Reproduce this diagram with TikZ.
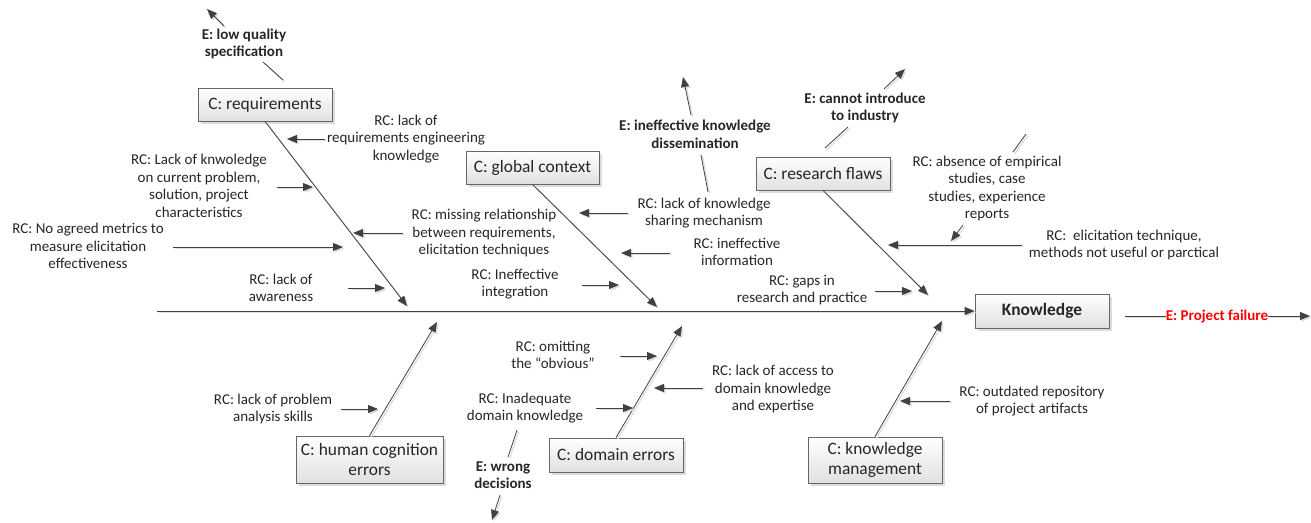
\documentclass[tikz,border=0pt]{standalone}
\usepackage{fontspec}
\setmainfont{Carlito}
\usetikzlibrary{arrows.meta,shadows}
\newcommand\rcfont{\fontsize{15}{17.6}\selectfont}
\newcommand\boxfont{\fontsize{17.4}{20}\selectfont}
\tikzset{
  txt/.style={align=center, inner sep=1pt, font=\rcfont, text=black!85},
  etxt/.style={align=center, inner sep=1pt, font=\rcfont\bfseries, text=black!85},
  cbox/.style={draw=black!60, line width=0.8pt, top color=white, bottom color=black!12,
    inner sep=2pt, align=center, font=\boxfont, text=black!85,
    drop shadow={shadow xshift=2.5pt, shadow yshift=-2.5pt, fill=black!25, opacity=0.55}},
  ln/.style={draw=black!75, line width=0.8pt,
    preaction={draw=black!13, line width=1.3pt, transform canvas={shift={(1.6pt,-1.6pt)}}}},
  arr/.style={ln, -{Triangle[length=10pt,width=8pt]}},
}
\begin{document}
\begin{tikzpicture}[x=1pt,y=-1pt]
\useasboundingbox (0,0) rectangle (1311,522);

% ---------- category boxes ----------
\node[cbox, minimum width=134pt, minimum height=33pt] (req)  at (265,104.5) {C: requirements};
\node[cbox, minimum width=133pt, minimum height=33pt] (glob) at (532.5,167.5) {C: global context};
\node[cbox, minimum width=134pt, minimum height=33pt] (res)  at (823,173.5) {C: research flaws};
\node[cbox, minimum width=134pt, minimum height=34pt, font=\boxfont\bfseries] (know) at (1042,311) {Knowledge};
\node[cbox, minimum width=147pt, minimum height=47pt] (hum)  at (369.5,459.5) {C: human cognition\\errors};
\node[cbox, minimum width=134pt, minimum height=34pt] (dom)  at (616,455) {C: domain errors};
\node[cbox, minimum width=134pt, minimum height=46pt] (km)   at (875,460) {C: knowledge\\management};

% ---------- effects ----------
\node[etxt] (elq)  at (244,44)  {E: low quality\\specification};
\node[etxt] (eikd) at (695,134) {E: ineffective knowledge\\dissemination};
\node[etxt] (ecii) at (865,108) {E: cannot introduce\\to industry};
\node[etxt] (ewd)  at (503,475) {E: wrong\\decisions};
\node[etxt, text=red, inner sep=0pt] (pf) at (1217,316) {E: Project failure};

% ---------- root causes ----------
\node[txt] (rcre) at (406,139)   {RC: lack of\\requirements engineering\\knowledge};
\node[txt] (rckn) at (199,186)   {RC: Lack of knwoledge\\on current problem,\\solution, project\\characteristics};
\node[txt] (rcnm) at (88,246)    {RC: No agreed metrics to\\measure elicitation\\effectiveness};
\node[txt] (rcaw) at (281,288)   {RC: lack of\\awareness};
\node[txt] (rcmr) at (484,233)   {RC: missing relationship\\between requirements,\\elicitation techniques};
\node[txt] (rcks) at (704,213)   {RC: lack of knowledge\\sharing mechanism};
\node[txt] (rcii) at (737,252)   {RC: ineffective\\information};
\node[txt] (rcin) at (515,284)   {RC: Ineffective\\integration};
\node[txt] (rcae) at (987,188.5) {RC: absence of empirical\\studies, case\\studies, experience\\reports};
\node[txt] (rcet) at (1124,245)  {RC:\ \ elicitation technique,\\methods not useful or parctical};
\node[txt] (rcgp) at (802,290)   {RC: gaps in\\research and practice};
\node[txt] (rcpa) at (273,409)   {RC: lack of problem\\analysis skills};
\node[txt] (rcom) at (553,355)   {RC: omitting\\the “obvious”};
\node[txt] (rcid) at (525,408)   {RC: Inadequate\\domain knowledge};
\node[txt] (rcac) at (773,389)   {RC: lack of access to\\domain knowledge\\and expertise};
\node[txt] (rcor) at (1032,401)  {RC: outdated repository\\of project artifacts};

% ---------- connector end points ----------
\coordinate (spine0) at (157,311);
\coordinate (reqH) at (407,306);
\coordinate (globH) at (657,307);
\coordinate (resH) at (928,295);
\coordinate (humH) at (437,322);
\coordinate (domH) at (682,326);
\coordinate (kmH) at (942,321);

\coordinate (reT) at (325,139);  \coordinate (reH) at (287,139);
\coordinate (knT) at (277,187);  \coordinate (knH) at (313,187);
\coordinate (nmT) at (173,247);  \coordinate (nmH) at (343,247);
\coordinate (awT) at (348,288);  \coordinate (awH) at (385,288);
\coordinate (mrT) at (403,233);  \coordinate (mrH) at (353,233);
\coordinate (ksT) at (628,213);  \coordinate (ksH) at (579,213);
\coordinate (iiT) at (670,253);  \coordinate (iiH) at (621,253);
\coordinate (inT) at (582,285);  \coordinate (inH) at (619,285);
\coordinate (etT) at (1022,245); \coordinate (etH) at (888,245);
\coordinate (gpT) at (875,291);  \coordinate (gpH) at (912,291);
\coordinate (paT) at (341,409);  \coordinate (paH) at (378,409);
\coordinate (omT) at (620,356);  \coordinate (omH) at (657,356);
\coordinate (idT) at (596,408);  \coordinate (idH) at (633,408);
\coordinate (acT) at (703,388);  \coordinate (acH) at (654,388);
\coordinate (orT) at (950,401);  \coordinate (orH) at (900,401);
\coordinate (aeT) at (963,225);  \coordinate (aeH) at (951,241);
\coordinate (aeU0) at (1013,152); \coordinate (aeU1) at (1026,134);

\coordinate (elq0) at (283,80);  \coordinate (elq1) at (263,62);
\coordinate (elq2) at (224,26);  \coordinate (elq3) at (207,9);
\coordinate (eik0) at (708,192); \coordinate (eik1) at (701,155);
\coordinate (eik2) at (691,115); \coordinate (eik3) at (683,77);
\coordinate (eci0) at (825,148); \coordinate (eci1) at (848,127);
\coordinate (eci2) at (884,89);  \coordinate (eci3) at (905,69);
\coordinate (ewd0) at (517,430); \coordinate (ewd1) at (508,457);
\coordinate (ewd2) at (500,495); \coordinate (ewd3) at (492,520);
\coordinate (pf0) at (1125,316); \coordinate (pf1) at (1310,316);

% ---------- spine and bones ----------
\draw[arr] (spine0) -- (know.west);
\draw[arr] (req.south) -- (reqH);
\draw[arr] (glob.south) -- (globH);
\draw[arr] (res.south) -- (resH);
\draw[arr] (hum.north) -- (humH);
\draw[arr] (dom.north) -- (domH);
\draw[arr] (km.north) -- (kmH);

% ---------- root cause arrows ----------
\foreach \k in {re,kn,nm,aw,mr,ks,ii,in,et,gp,pa,om,id,ac,or,ae}
  \draw[arr] (\k T) -- (\k H);
\draw[ln] (aeU0) -- (aeU1);

% ---------- effect links ----------
\draw[ln] (elq0) -- (elq1);  \draw[arr] (elq2) -- (elq3);
\draw[ln] (eik0) -- (eik1);  \draw[arr] (eik2) -- (eik3);
\draw[ln] (eci0) -- (eci1);  \draw[arr] (eci2) -- (eci3);
\draw[ln] (ewd0) -- (ewd1);  \draw[arr] (ewd2) -- (ewd3);
\draw[ln] (pf0) -- (pf.west);
\draw[arr] (pf.east) -- (pf1);
\end{tikzpicture}
\end{document}
